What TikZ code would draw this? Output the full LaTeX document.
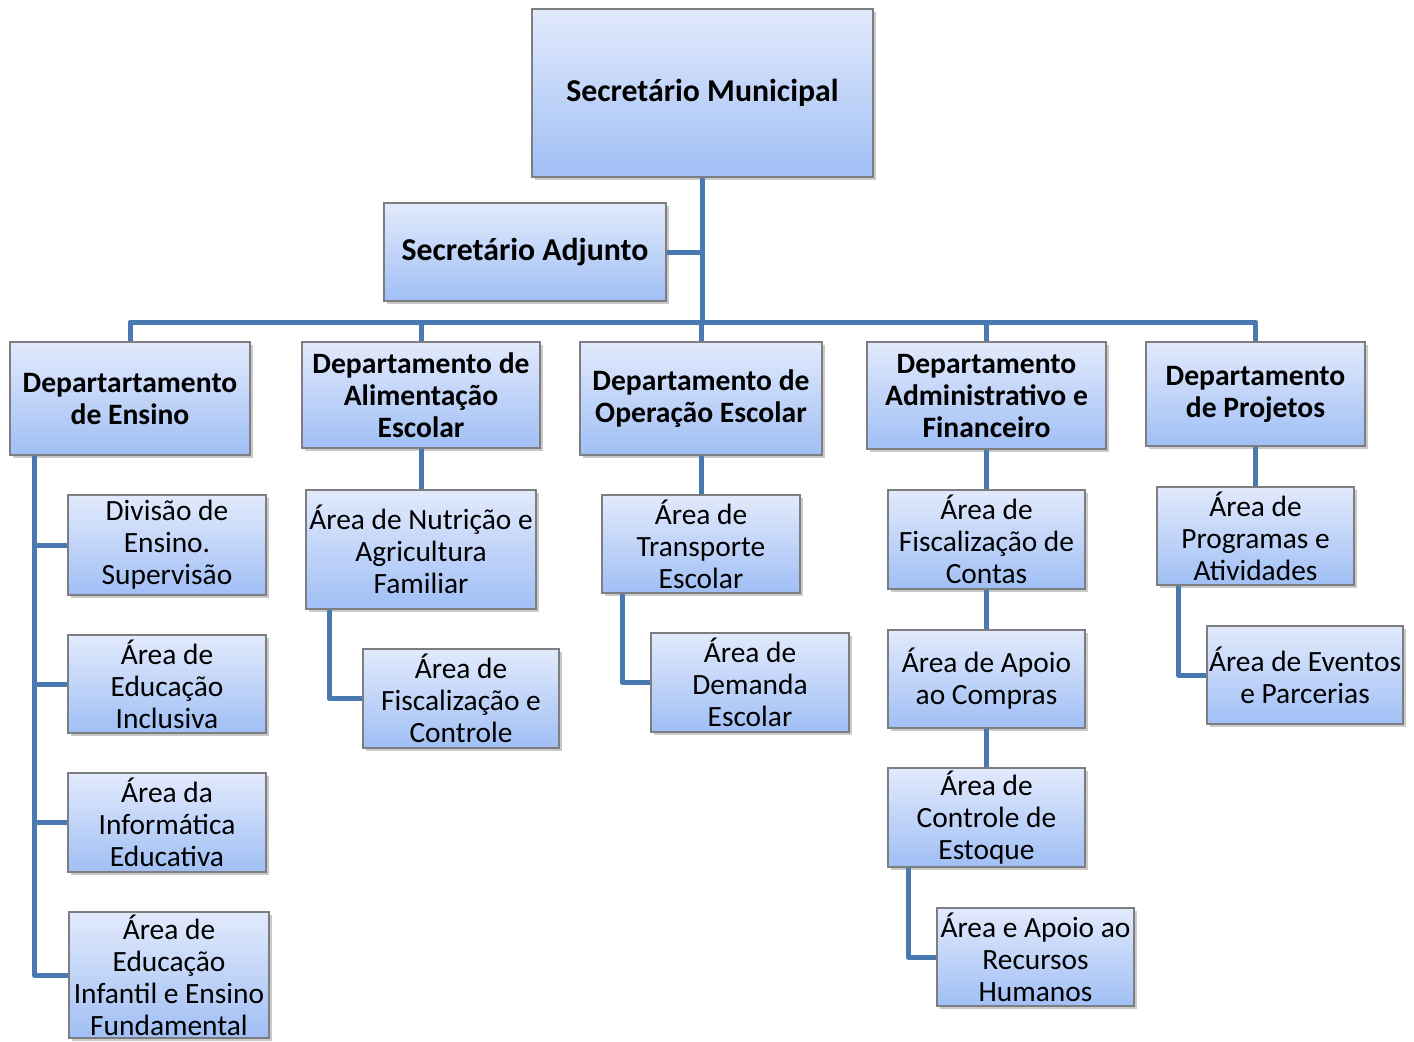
\documentclass[tikz,border=0pt]{standalone}
\usepackage{fontspec}
\setmainfont{Carlito}
\usetikzlibrary{shadows}
\definecolor{boxtop}{RGB}{226,234,252}
\definecolor{boxbot}{RGB}{160,191,245}
\definecolor{boxedge}{RGB}{125,125,130}
\definecolor{linkc}{RGB}{74,121,178}
\tikzset{
  orgbox/.style={rectangle, draw=boxedge, line width=0.7pt, top color=boxtop, bottom color=boxbot,
    align=center, inner sep=0pt, font=\fontsize{14.7}{16}\selectfont,
    drop shadow={shadow xshift=1.6pt, shadow yshift=-1.6pt, opacity=0.35, fill=black!60}},
  deptbox/.style={orgbox, font=\fontsize{14.8}{16}\selectfont\bfseries},
  topbox/.style={orgbox, font=\fontsize{15.9}{18}\selectfont\bfseries},
  link/.style={draw=linkc, line width=2.5pt, line join=round}
}
\newcommand{\bx}[7]{\node[#7, minimum width={(#4-#2)*0.5pt}, minimum height={(#5-#3)*0.5pt}] (#1) at ({(#2+#4)/2},{(#3+#5)/2}) {#6};}
\begin{document}
\begin{tikzpicture}[x=0.5pt,y=-0.5pt]
\path[fill=white, use as bounding box] (0,0) rectangle (1414,1041);
\coordinate (bus) at (703,322);
% boxes
\bx{sm}{532}{9}{873}{177}{Secretário Municipal}{topbox}
\bx{sa}{384}{203}{666}{301}{Secretário Adjunto}{topbox}
\bx{d1}{10}{342}{250}{455}{Departartamento\\de Ensino}{deptbox}
\bx{d2}{302}{342}{540}{448}{Departamento de\\Alimentação\\Escolar}{deptbox}
\bx{d3}{580}{342}{822}{455}{Departamento de\\Operação Escolar}{deptbox}
\bx{d4}{867}{342}{1106}{449}{Departamento\\Administrativo e\\Financeiro}{deptbox}
\bx{d5}{1146}{342}{1365}{446}{Departamento\\de Projetos}{deptbox}
\bx{e1}{68}{495}{266}{595}{Divisão de\\Ensino.\\Supervisão}{orgbox}
\bx{e2}{68}{635}{266}{733}{Área de\\Educação\\Inclusiva}{orgbox}
\bx{e3}{68}{773}{266}{872}{Área da\\Informática\\Educativa}{orgbox}
\bx{e4}{69}{912}{269}{1038}{Área de\\Educação\\Infantil e Ensino\\Fundamental}{orgbox}
\bx{a1}{306}{490}{536}{609}{Área de Nutrição e\\Agricultura\\Familiar}{orgbox}
\bx{a2}{363}{649}{559}{748}{Área de\\Fiscalização e\\Controle}{orgbox}
\bx{o1}{602}{495}{800}{593}{Área de\\Transporte\\Escolar}{orgbox}
\bx{o2}{651}{633}{849}{732}{Área de\\Demanda\\Escolar}{orgbox}
\bx{f1}{888}{490}{1085}{589}{Área de\\Fiscalização de\\Contas}{orgbox}
\bx{f2}{888}{630}{1085}{728}{Área de Apoio\\ao Compras}{orgbox}
\bx{f3}{888}{768}{1085}{867}{Área de\\Controle de\\Estoque}{orgbox}
\bx{f4}{937}{908}{1134}{1006}{Área e Apoio ao\\Recursos\\Humanos}{orgbox}
\bx{p1}{1157}{487}{1354}{585}{Área de\\Programas e\\Atividades}{orgbox}
\bx{p2}{1207}{626}{1403}{724}{Área de Eventos\\e Parcerias}{orgbox}
% connectors
\draw[link] (sm.south) -- (sm.south |- bus);
\draw[link] (sa.east) -- (sa.east -| sm.south);
\draw[link] (d1.north) -- (d1.north |- bus) -- (d5.north |- bus) -- (d5.north);
\draw[link] (d2.north) -- (d2.north |- bus);
\draw[link] (d3.north) -- (d3.north |- bus);
\draw[link] (d4.north) -- (d4.north |- bus);
\coordinate (d1s) at ([xshift=12.5pt]d1.south west);
\draw[link] (d1s) |- (e4.west);
\draw[link] (e1.west) -- (e1.west -| d1s);
\draw[link] (e2.west) -- (e2.west -| d1s);
\draw[link] (e3.west) -- (e3.west -| d1s);
\draw[link] (d2.south) -- (d2.south |- a1.north);
\draw[link] ([xshift=12pt]a1.south west) |- (a2.west);
\draw[link] (d3.south) -- (d3.south |- o1.north);
\draw[link] ([xshift=10.5pt]o1.south west) |- (o2.west);
\draw[link] (d4.south) -- (d4.south |- f1.north);
\draw[link] (f1.south) -- (f1.south |- f2.north);
\draw[link] (f2.south) -- (f2.south |- f3.north);
\draw[link] ([xshift=10.5pt]f3.south west) |- (f4.west);
\draw[link] (d5.south) -- (d5.south |- p1.north);
\draw[link] ([xshift=11pt]p1.south west) |- (p2.west);
\end{tikzpicture}
\end{document}
